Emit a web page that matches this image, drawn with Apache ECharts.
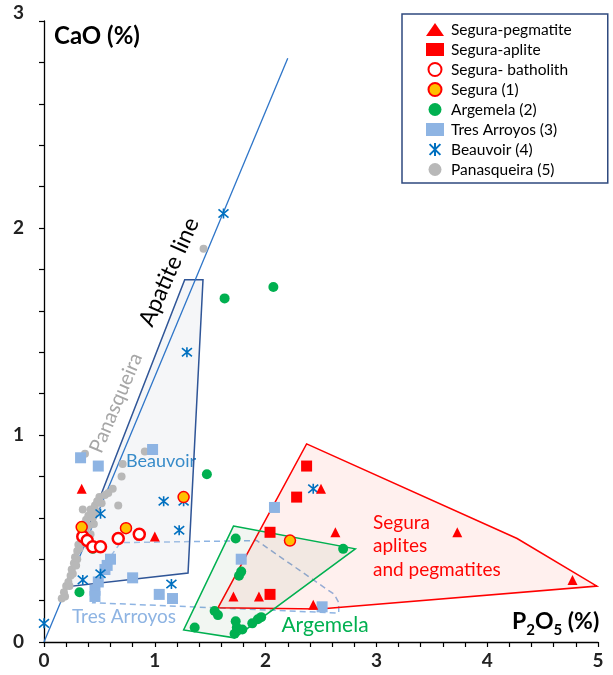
<!DOCTYPE html>
<html><head><meta charset="utf-8">
<script src="https://cdn.jsdelivr.net/npm/echarts@6/dist/echarts.min.js"></script>
<style>html,body{margin:0;padding:0;background:#fff}#c{width:613px;height:675px}</style>
</head><body><div id="c"></div>
<script>
// ---- data (P2O5 %, CaO %) ----
const seguraPegmatite = [[0.34,0.74],[1.00,0.51],[1.71,0.22],[1.94,0.22],[2.43,0.18],[2.50,0.74],[2.63,0.53],[3.73,0.53],[4.77,0.30]];
const seguraAplite = [[2.37,0.85],[2.28,0.70],[2.04,0.53],[2.04,0.23]];
const seguraBatholith = [[0.35,0.51],[0.39,0.49],[0.44,0.46],[0.51,0.46],[0.67,0.50],[0.86,0.52]];
const segura1 = [[0.34,0.555],[0.74,0.55],[1.26,0.70],[2.22,0.49]];
const argemela = [[0.32,0.24],[0.44,0.45],[1.36,0.07],[1.47,0.81],[1.54,0.15],[1.57,0.13],[1.63,1.66],[1.72,0.04],[1.73,0.50],[1.73,0.10],[1.74,0.07],[1.76,0.32],[1.78,0.34],[1.79,0.06],[1.88,0.09],[1.93,0.11],[1.96,0.12],[2.07,1.715],[2.70,0.45]];
const tresArroyos = [[0.33,0.89],[0.49,0.85],[0.98,0.93],[0.46,0.25],[0.46,0.22],[0.49,0.29],[0.55,0.35],[0.57,0.37],[0.60,0.40],[0.80,0.31],[1.04,0.23],[1.16,0.21],[1.78,0.40],[2.08,0.65],[2.51,0.17]];
const beauvoir = [[0,0.09],[0.35,0.30],[0.51,0.33],[0.51,0.62],[1.08,0.68],[1.26,0.68],[1.22,0.54],[1.15,0.28],[1.29,1.40],[1.62,2.07],[2.43,0.74]];
const panasqueira = [[0.16,0.21],[0.18,0.24],[0.20,0.27],[0.22,0.29],[0.24,0.32],[0.25,0.35],[0.27,0.38],[0.28,0.41],[0.30,0.44],[0.31,0.47],[0.33,0.50],[0.35,0.53],[0.36,0.56],[0.38,0.59],[0.40,0.61],[0.42,0.64],[0.35,0.64],[0.46,0.66],[0.48,0.68],[0.50,0.70],[0.55,0.71],[0.58,0.72],[0.62,0.74],[0.67,0.66],[0.70,0.80],[0.71,0.86],[0.37,0.91],[0.91,0.92],[1.44,1.90],[0.45,0.57],[0.42,0.52],[0.44,0.60],[0.39,0.47],[0.30,0.40],[0.19,0.22],[0.23,0.27],[0.26,0.33],[0.29,0.37],[0.32,0.45],[0.34,0.48],[0.37,0.54],[0.40,0.56],[0.43,0.62],[0.47,0.63],[0.52,0.67]];
const apatiteLine = [[0,0],[2.2,2.82]];
const polyBeauvoir = [[0.19,0.266],[1.27,1.75],[1.435,1.75],[1.30,0.333]];
const polyTresArroyos = [[0.44,0.19],[0.61,0.42],[0.69,0.48],[1.92,0.49],[2.62,0.23],[2.66,0.19],[2.66,0.14]];
const polySegura = [[2.37,0.957],[4.27,0.50],[4.99,0.27],[2.49,0.16],[1.57,0.165]];
const polyArgemela = [[1.71,0.56],[2.81,0.45],[1.72,0.02],[1.26,0.058]];
const xTicks = [0,1,2,3,4,5];
const yTicks = [0,1,2,3];

const FONT = 'Lato, "Open Sans", sans-serif';
const chart = echarts.init(document.getElementById('c'));

function poly(name, pts, stroke, fill, dashed, z) {
  return {
    type: 'custom', name: name, silent: true, z: z, clip: false,
    data: [0],
    renderItem: function (params, api) {
      return {
        type: 'polygon',
        shape: { points: pts.map(function (p) { return api.coord(p); }) },
        style: { fill: fill, stroke: stroke, lineWidth: 1.5, lineDash: dashed ? [6, 4] : null }
      };
    }
  };
}

const asterisk = 'path://M0,0L10,10M10,0L0,10M5,-1L5,11';

const option = {
  animation: false,
  grid: { left: 44, right: 15, top: 21, bottom: 33 },
  xAxis: {
    type: 'value', min: xTicks[0], max: xTicks[xTicks.length - 1], interval: 1,
    axisLine: { onZero: false, lineStyle: { color: '#000', width: 1.3 } },
    axisTick: { length: 5, lineStyle: { color: '#000', width: 1.2 } },
    minorTick: { show: true, splitNumber: 5, length: 5, lineStyle: { color: '#000', width: 1.2 } },
    splitLine: { show: false },
    axisLabel: { fontSize: 19, fontWeight: 'bold', color: '#222', margin: 9, fontFamily: FONT }
  },
  yAxis: {
    type: 'value', min: yTicks[0], max: yTicks[yTicks.length - 1], interval: 1,
    axisLine: { show: true, onZero: false, lineStyle: { color: '#000', width: 1.3 } },
    axisTick: { show: true, length: 5, lineStyle: { color: '#000', width: 1.2 } },
    minorTick: { show: true, splitNumber: 5, length: 5, lineStyle: { color: '#000', width: 1.2 } },
    splitLine: { show: false },
    axisLabel: { fontSize: 19, fontWeight: 'bold', color: '#222', margin: 20, fontFamily: FONT,
      formatter: function (v) { return v === 3 ? '{t|3}' : String(v); },
      rich: { t: { fontSize: 19, fontWeight: 'bold', color: '#222', fontFamily: FONT, padding: [0, 0, 16, 0] } } }
  },
  legend: {
    orient: 'vertical', left: 402, top: 14,
    padding: [6, 36, 4, 24],
    borderColor: '#2F4A7F', borderWidth: 1.5,
    itemWidth: 18, itemHeight: 13, itemGap: 1,
    textStyle: { fontSize: 15.5, lineHeight: 19, color: '#000', fontFamily: FONT, padding: [0, 0, 0, 2] },
    data: [
      { name: 'Segura-pegmatite' },
      { name: 'Segura-aplite' },
      { name: 'Segura- batholith' },
      { name: 'Segura (1)' },
      { name: 'Argemela (2)' },
      { name: 'Tres Arroyos (3)' },
      { name: 'Beauvoir (4)' },
      { name: 'Panasqueira (5)' }
    ]
  },
  graphic: [
    { type: 'text', left: 54, top: 24, style: { text: 'CaO (%)', font: 'bold 24px ' + FONT, fill: '#000' } },
    { type: 'text', left: 512, top: 610, style: {
        text: '{b|P}{s|2}{b|O}{s|5}{b| (%)}',
        rich: {
          b: { font: 'bold 23px ' + FONT, fill: '#000', lineHeight: 32, verticalAlign: 'middle' },
          s: { font: 'bold 15px ' + FONT, fill: '#000', lineHeight: 15, verticalAlign: 'bottom' }
        } } },
    { type: 'text', x: 169, y: 272, rotation: 66 * Math.PI / 180, style: { text: 'Apatite line', font: '23px ' + FONT, fill: '#000', align: 'center', verticalAlign: 'middle' } },
    { type: 'text', x: 116, y: 403, rotation: 67 * Math.PI / 180, style: { text: 'Panasqueira', font: '20px ' + FONT, fill: '#A6A6A6', align: 'center', verticalAlign: 'middle' } },
    { type: 'text', x: 161, y: 461, style: { text: 'Beauvoir', font: '18px ' + FONT, fill: '#0070C0', align: 'center', verticalAlign: 'middle' } },
    { type: 'text', x: 124, y: 617, style: { text: 'Tres Arroyos', font: '19px ' + FONT, fill: '#8EB4E3', align: 'center', verticalAlign: 'middle' } },
    { type: 'text', x: 325, y: 625, style: { text: 'Argemela', font: '21px ' + FONT, fill: '#00B050', align: 'center', verticalAlign: 'middle' } },
    { type: 'text', x: 373, y: 511, style: { text: 'Segura\naplites\nand pegmatites', font: '19px ' + FONT, lineHeight: 23.5, fill: '#FF0000', align: 'left', verticalAlign: 'top' } }
  ],
  series: [
    poly('polyTA', polyTresArroyos, '#8EB4E3', 'rgba(0,0,0,0)', true, 1),
    poly('polyB', polyBeauvoir, '#2F5597', 'rgba(215,218,226,0.25)', false, 1),
    poly('polyS', polySegura, '#FF0000', 'rgba(250,60,40,0.08)', false, 1),
    poly('polyA', polyArgemela, '#00B050', 'rgba(40,110,40,0.06)', false, 1),
    { type: 'line', name: 'apatite', data: apatiteLine, symbol: 'none', silent: true, z: 2,
      lineStyle: { color: '#2E75C8', width: 1.3 } },
    { type: 'scatter', name: 'Panasqueira (5)', data: panasqueira, symbol: 'circle', symbolSize: 8, z: 3,
      itemStyle: { color: '#B8B8B8', opacity: 1 } },
    { type: 'scatter', name: 'Tres Arroyos (3)', data: tresArroyos, symbol: 'rect', symbolSize: 11, z: 4,
      itemStyle: { color: '#8EB4E3', opacity: 1 } },
    { type: 'scatter', name: 'Argemela (2)', data: argemela, symbol: 'circle', symbolSize: 10, z: 4,
      itemStyle: { color: '#00B050', opacity: 1 } },
    { type: 'scatter', name: 'Beauvoir (4)', data: beauvoir, symbol: asterisk, symbolSize: 10, z: 5,
      itemStyle: { color: 'rgba(0,0,0,0)', borderColor: '#0070C0', borderWidth: 1.6, opacity: 1 } },
    { type: 'scatter', name: 'Segura- batholith', data: seguraBatholith, symbol: 'circle', symbolSize: 11, z: 5,
      itemStyle: { color: '#fff', borderColor: '#FF0000', borderWidth: 2.5, opacity: 1 } },
    { type: 'scatter', name: 'Segura (1)', data: segura1, symbol: 'circle', symbolSize: 11, z: 6,
      itemStyle: { color: '#FFC000', borderColor: '#FF0000', borderWidth: 1.5, opacity: 1 } },
    { type: 'scatter', name: 'Segura-aplite', data: seguraAplite, symbol: 'rect', symbolSize: 11, z: 6,
      itemStyle: { color: '#FF0000', opacity: 1 } },
    { type: 'scatter', name: 'Segura-pegmatite', data: seguraPegmatite, symbol: 'triangle', symbolSize: 10, z: 6,
      itemStyle: { color: '#FF0000', opacity: 1 } }
  ]
};
chart.setOption(option);
</script>
</body></html>
